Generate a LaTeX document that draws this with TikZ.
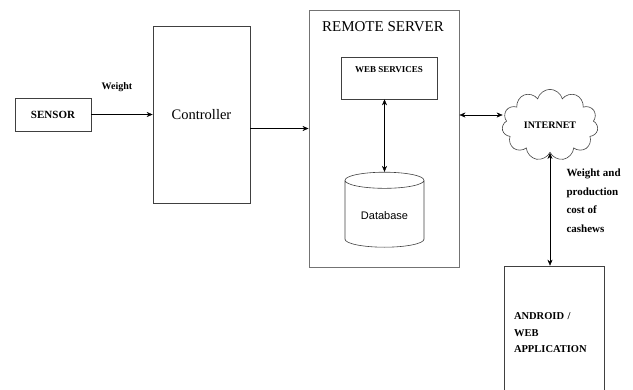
\documentclass[tikz,border=0pt]{standalone}
\usepackage{fontspec}
\setmainfont{Liberation Serif}
\newfontfamily\arialfont{Liberation Sans}
\usetikzlibrary{shapes.geometric,shapes.symbols,arrows.meta}
\tikzset{
  box/.style={draw=black!75, line width=0.6pt},
  lbl/.style={font=\bfseries\fontsize{10}{12}\selectfont},
}
\begin{document}
\begin{tikzpicture}[>={Stealth[length=6pt,width=5pt]}, x=1pt, y=-1pt]
\clip (0,0) rectangle (633,389);
\node[box, minimum width=76pt, minimum height=33pt, font=\bfseries\fontsize{11}{13}\selectfont] (sensor) at (53,114.5) {SENSOR};
\node[box, minimum width=97pt, minimum height=177pt, font=\fontsize{14.5}{16}\selectfont] (ctrl) at (201.5,114.5) {Controller};
\node[box, draw=black!55, line width=0.9pt, minimum width=150pt, minimum height=257pt] (srv) at (384,138.5) {};
\node[font=\fontsize{15}{17}\selectfont] (srvtitle) at (383,27) {REMOTE SERVER};
\node[box, minimum width=96pt, minimum height=42pt, label={[lbl, font=\bfseries\fontsize{9}{11}\selectfont, anchor=north, yshift=-6pt]north:WEB SERVICES}] (ws) at (389,78) {};
\node[cylinder, shape border rotate=90, draw=black!75, line width=0.6pt, aspect=0.3, minimum width=79pt, minimum height=75pt, font=\arialfont\fontsize{11}{13}\selectfont] (db) at (384.5,215.5) {Database};
\node[cloud, draw=black!75, line width=0.6pt, cloud puffs=11, aspect=1.5, minimum width=96pt, minimum height=68pt, lbl] (net) at (550,125) {INTERNET};
\node[box, minimum width=100pt, minimum height=134pt, text width=80pt, align=left, font=\bfseries\fontsize{10.5}{16.5}\selectfont] (app) at (554,333) {ANDROID /\\WEB\\APPLICATION};
\node[lbl] (wlbl) at (117,87) {Weight};
\node[align=left, anchor=west, font=\bfseries\fontsize{11}{18.5}\selectfont] (costlbl) at (563,200.5) {Weight and\\production\\cost of\\cashews};

\coordinate (c1) at ([yshift=-14pt]ctrl.east);
\coordinate (c2) at ([yshift=23.5pt]srv.east);
\draw[->] (sensor) -- (ctrl);
\draw[->] (c1) -- (c1 -| srv.west);
\draw[<->] (db.north |- ws.south) -- (db.north);
\draw[<->] (c2) -- (c2 -| net.west);
\draw[<->] (net.south) -- (net.south |- app.north);

\end{tikzpicture}
\end{document}
